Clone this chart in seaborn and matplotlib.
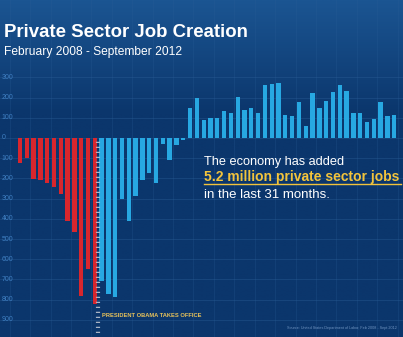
import numpy as np
import pandas as pd
import matplotlib
matplotlib.use("Agg")
import matplotlib.pyplot as plt
from matplotlib.lines import Line2D
from matplotlib.transforms import blended_transform_factory
import seaborn as sns

# Monthly change in private sector payrolls (thousands)
months = pd.date_range("2008-02-01", "2012-09-01", freq="MS").strftime("%b %Y").tolist()
before_office = [-125, -100, -205, -210, -224, -245, -275, -410, -465, -780, -648, -820]
after_office = [-710, -770, -785, -300, -410, -285, -210, -175, -225, -32, -110, -35, -12,
                150, 200, 90, 100, 100, 133, 123, 205, 140, 150, 125, 262, 265, 270,
                115, 110, 180, 60, 225, 150, 185, 230, 262, 235, 125, 122, 80, 93,
                180, 108, 112]
tick_values = [300, 200, 100, 0, -100, -200, -300, -400, -500, -600, -700, -800, -900]

df = pd.DataFrame({
    "month": months,
    "jobs": before_office + after_office,
    "period": ["before"] * len(before_office) + ["after"] * len(after_office),
})

W, H = 403, 337
FONT = ["Liberation Sans", "DejaVu Sans"]
fig = plt.figure(figsize=(W / 100, H / 100), dpi=100)
renderer = fig.canvas.get_renderer()


def fitted_text(x_px, y_px, s, width_px, **kw):
    """Place text at pixel coords (baseline) and scale it to a given pixel width."""
    t = fig.text(x_px / W, 1 - y_px / H, s, va="baseline", family=FONT, **kw)
    fs = t.get_fontsize()
    w = t.get_window_extent(renderer=renderer).width
    t.set_fontsize(fs * width_px / w)
    return t


# dark blue backdrop, slightly brighter toward the top
bg = fig.add_axes([0, 0, 1, 1])
grad = np.linspace(0, 1, 256)[:, None]
top = np.array([0x1b, 0x55, 0x92]) / 255
bot = np.array([0x0b, 0x36, 0x6c]) / 255
t = np.clip(grad * 3.0, 0, 1)
img = top[None, None, :] * (1 - t[..., None]) + bot[None, None, :] * t[..., None]
bg.imshow(img, aspect="auto", extent=[0, 1, 0, 1])
bg.set_axis_off()

ax = fig.add_axes([0, 0, 1, 1])
ax.patch.set_alpha(0)

# faint grid
for v in tick_values:
    ax.axhline(v, color="#2b5f98", lw=0.5, alpha=0.55, zorder=0)
for xv in np.arange(-2, 57, 3):
    ax.axvline(xv + 0.5, color="#2b5f98", lw=0.5, alpha=0.35, zorder=0)

sns.barplot(data=df, x="month", y="jobs", hue="period",
            palette={"before": "#d8262d", "after": "#27a8e2"},
            width=0.64, dodge=False, saturation=1, legend=False, ax=ax, zorder=2)

ax.set_xlim(-2.94, 56.3)
ax.set_ylim(-985, 683)
ax.set_xticks([])
ax.set_yticks([])
ax.set_xlabel("")
ax.set_ylabel("")
for s in ax.spines.values():
    s.set_visible(False)

trans = blended_transform_factory(ax.transAxes, ax.transData)
for v in tick_values:
    ax.text(0.004, v, f"{abs(v)}", transform=trans, ha="left", va="center",
            fontsize=5, color="#3f7fc2", family=FONT)

# inauguration marker
ax.vlines(len(before_office) - 0.5, -965, 0, colors="#aab4c4",
          linestyles=(0, (0.3, 0.9)), lw=3, zorder=3)

fitted_text(4, 37, "Private Sector Job Creation", 244,
            fontsize=18, fontweight="bold", color="white", ha="left")
fitted_text(4, 55.5, "February 2008 - September 2012", 178,
            fontsize=12, color="white", ha="left")

fitted_text(204, 165, "The economy has added", 141,
            fontsize=11.5, color="white", ha="left")
fitted_text(204, 180.5, "5.2 million private sector jobs", 197,
            fontsize=11.5, fontweight="bold", color="#f2c43c", ha="left")
fig.add_artist(Line2D([204 / W, 401 / W], [1 - 183.5 / H, 1 - 183.5 / H],
                      color="#f2c43c", lw=1.0))
fitted_text(204, 198, "in the last 31 months.", 126,
            fontsize=11.5, color="white", ha="left")

fitted_text(102, 317, "PRESIDENT OBAMA TAKES OFFICE", 101,
            fontsize=5, fontweight="bold", color="#e8c25a", ha="left")

fitted_text(287, 329, "Source: United States Department of Labor, Feb 2008 - Sept 2012", 113,
            fontsize=3.5, color="#6f93c0", ha="left")

fig.savefig("out.png", dpi=100)
